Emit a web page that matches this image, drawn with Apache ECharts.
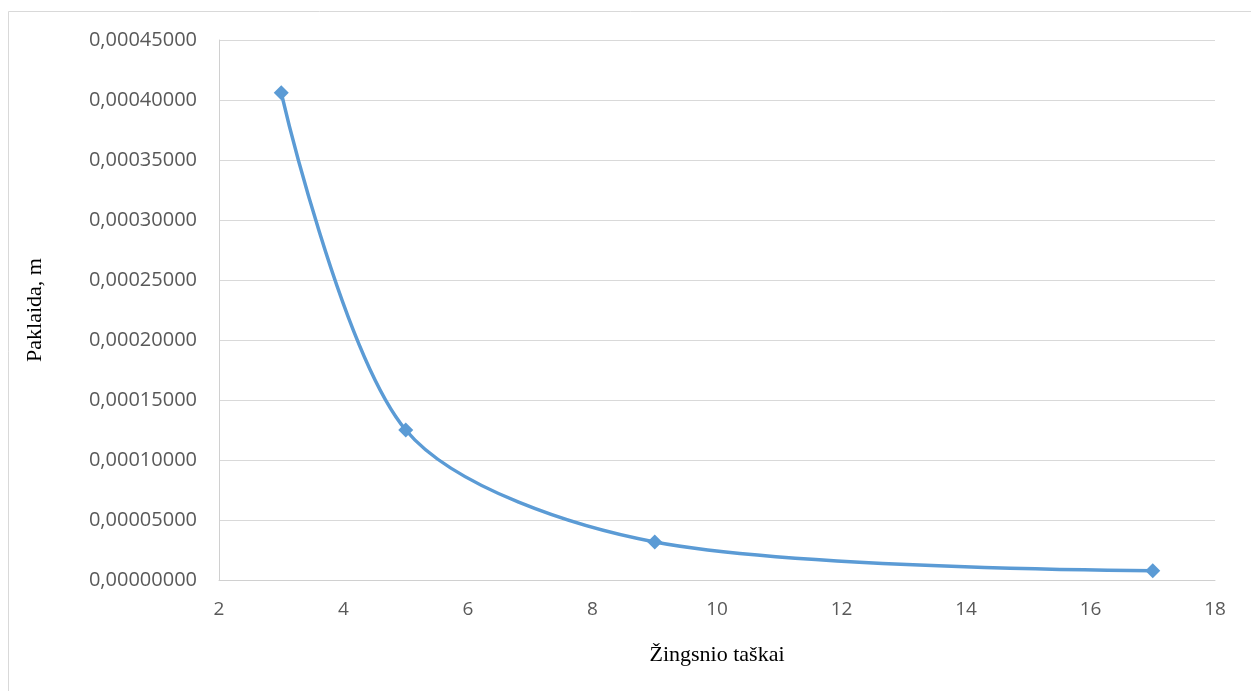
<!DOCTYPE html>
<html><head><meta charset="utf-8">
<script src="https://cdn.jsdelivr.net/npm/echarts@6/dist/echarts.min.js"></script>
<style>html,body{margin:0;padding:0;background:#fff}#c{width:1251px;height:691px}</style>
</head><body><div id="c"></div>
<script>
const xValues = [3, 5, 9, 17];
const yValues = [0.000406, 0.000125, 0.0000317, 0.0000078];
const xTitle = 'Žingsnio taškai';
const yTitle = 'Paklaida, m';

const chart = echarts.init(document.getElementById('c'));
chart.setOption({
  backgroundColor: '#fff',
  graphic: [{type:'rect', shape:{x:8.5,y:11.5,width:1250,height:690}, style:{fill:'none', stroke:'#d9d9d9', lineWidth:1}, silent:true}],
  grid: {left: 219, right: 36, top: 40, bottom: 111},
  xAxis: {
    type: 'value', min: 2, max: 18, interval: 2,
    name: xTitle, nameLocation: 'middle', nameGap: 64,
    nameTextStyle: {fontFamily: 'Liberation Serif', fontSize: 22, color: '#000'},
    axisLine: {show: true, lineStyle: {color: '#d0d0d0', width: 1}},
    axisTick: {show: false},
    axisLabel: {fontFamily: 'Open Sans', fontSize: 19, color: '#595959', margin: 20},
    splitLine: {show: false}
  },
  yAxis: {
    type: 'value', min: 0, max: 0.00045, interval: 0.00005,
    name: yTitle, nameLocation: 'middle', nameGap: 173,
    nameTextStyle: {fontFamily: 'Liberation Serif', fontSize: 22, color: '#000'},
    axisLine: {show: true, lineStyle: {color: '#d0d0d0', width: 1}},
    axisTick: {show: false},
    axisLabel: {fontFamily: 'Open Sans', fontSize: 20, color: '#595959', margin: 22,
      formatter: v => v.toFixed(8).replace('.', ',')},
    splitLine: {show: true, lineStyle: {color: '#d9d9d9', width: 1}}
  },
  series: [{
    type: 'line',
    data: xValues.map((x, i) => [x, yValues[i]]),
    smooth: 0.3,
    symbol: 'diamond', symbolSize: 15,
    lineStyle: {color: '#5b9bd5', width: 3.5},
    itemStyle: {color: '#5b9bd5'},
    animation: false
  }]
});
</script></body></html>
